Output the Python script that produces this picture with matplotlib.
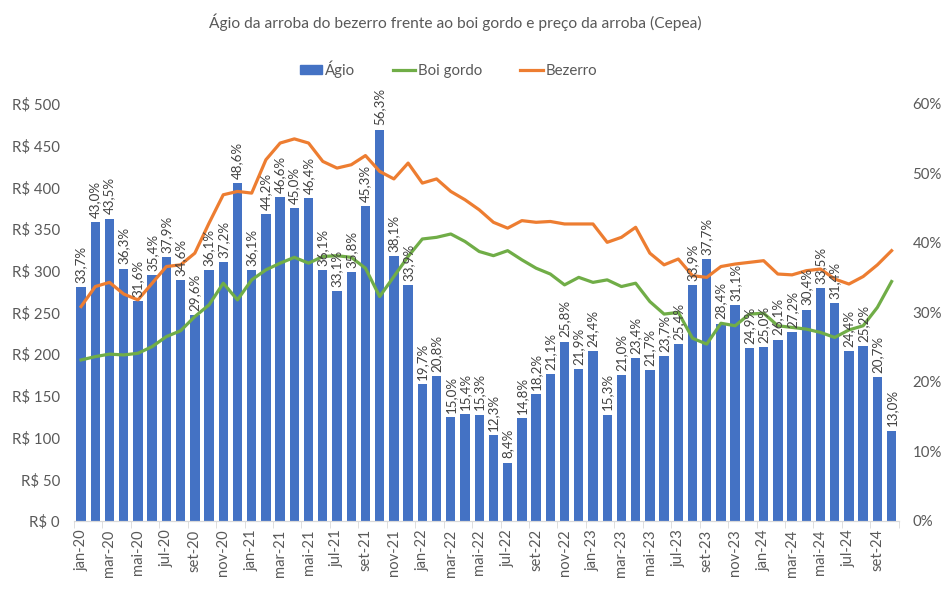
import matplotlib
matplotlib.use('Agg')
import matplotlib.pyplot as plt
from matplotlib.ticker import FuncFormatter, MultipleLocator, FixedLocator
from matplotlib.lines import Line2D
from matplotlib.patches import Patch

matplotlib.rc('font', family=['Lato', 'DejaVu Sans'], size=10)

meses = ['jan', 'fev', 'mar', 'abr', 'mai', 'jun',
         'jul', 'ago', 'set', 'out', 'nov', 'dez']
anos = ['20', '21', '22', '23', '24']
rotulos = [m + '-' + a for a in anos for m in meses][:58]

# agio da arroba do bezerro sobre o boi gordo (%)
agio = [33.7, 43.0, 43.5, 36.3, 31.6, 35.4, 37.9, 34.6, 29.6, 36.1, 37.2, 48.6,
        36.1, 44.2, 46.6, 45.0, 46.4, 36.1, 33.1, 35.8, 45.3, 56.3, 38.1, 33.9,
        19.7, 20.8, 15.0, 15.4, 15.3, 12.3, 8.4, 14.8, 18.2, 21.1, 25.8, 21.9,
        24.4, 15.3, 21.0, 23.4, 21.7, 23.7, 25.4, 33.9, 37.7, 28.4, 31.1, 24.9,
        25.0, 26.1, 27.2, 30.4, 33.5, 31.4, 24.4, 25.2, 20.7, 13.0]

# preco da arroba (R$)
boi_gordo = [193, 197, 200, 199, 201, 209, 221, 228, 245, 259, 285, 265,
             289, 301, 309, 316, 309, 317, 318, 316, 303, 269, 293, 317,
             338, 340, 344, 335, 323, 318, 324, 313, 303, 296, 283, 292,
             286, 289, 281, 285, 263, 248, 250, 219, 212, 237, 234, 248,
             249, 234, 232, 230, 226, 220, 229, 234, 256, 287]

bezerro = [257, 281, 286, 272, 265, 285, 305, 307, 321, 357, 391, 395,
           393, 433, 453, 458, 453, 431, 423, 427, 438, 419, 410, 429,
           405, 410, 395, 385, 373, 358, 351, 360, 358, 359, 356, 356,
           356, 334, 340, 352, 321, 307, 314, 294, 292, 305, 308, 310,
           312, 296, 295, 300, 302, 290, 284, 293, 307, 324]

AZUL = '#4472C4'
VERDE = '#70AD47'
LARANJA = '#ED7D31'
CINZA = '#595959'

x = list(range(len(agio)))

fig = plt.figure(figsize=(9.48, 5.90), dpi=100)
ax = fig.add_axes([0.078, 0.117, 0.870, 0.707])
ax2 = ax.twinx()

ax2.bar(x, agio, width=0.66, color=AZUL, zorder=2)
ax.plot(x, boi_gordo, color=VERDE, lw=2.3, solid_joinstyle='round')
ax.plot(x, bezerro, color=LARANJA, lw=2.3, solid_joinstyle='round')

ax.set_zorder(ax2.get_zorder() + 1)
ax.patch.set_visible(False)

# data labels on top of everything
for xi, v in zip(x, agio):
    ax.annotate(f'{v:.1f}%'.replace('.', ','), xy=(xi, v),
                xycoords=ax2.transData, xytext=(0, 3),
                textcoords='offset points', rotation=90,
                ha='center', va='bottom', fontsize=9.6, color='#404040',
                zorder=10)

ax.set_xlim(-0.5, len(agio) - 0.5)
ax.set_ylim(0, 500)
ax2.set_ylim(0, 60)

ax.yaxis.set_major_locator(MultipleLocator(50))
ax.yaxis.set_major_formatter(FuncFormatter(lambda v, p: f'R$ {v:.0f}'))
ax2.yaxis.set_major_locator(MultipleLocator(10))
ax2.yaxis.set_major_formatter(FuncFormatter(lambda v, p: f'{v:.0f}%'))

ax.xaxis.set_major_locator(FixedLocator(x[::2]))
ax.set_xticklabels(rotulos[::2], rotation=90)
ax.xaxis.set_minor_locator(FixedLocator([i - 0.5 for i in x[::2]] + [len(x) - 0.5]))
ax.tick_params(axis='x', which='major', length=0, pad=6, colors=CINZA,
               labelsize=10.6)
ax.tick_params(axis='x', which='minor', length=5, color='#D9D9D9')
ax.tick_params(axis='y', length=0, pad=10, colors=CINZA, labelsize=10.8)
ax2.tick_params(axis='y', length=0, pad=10, colors=CINZA, labelsize=10.8)
ax2.tick_params(axis='x', length=0)

for a in (ax, ax2):
    for s in ('top', 'left', 'right'):
        a.spines[s].set_visible(False)
    a.spines['bottom'].set_color('#D9D9D9')

fig.text(0.48, 0.962, 'Ágio da arroba do bezerro frente ao boi gordo e preço da arroba (Cepea)',
         ha='center', va='center', fontsize=11.2, color=CINZA)

handles = [Patch(color=AZUL, label='Ágio'),
           Line2D([], [], color=VERDE, lw=2.3, label='Boi gordo'),
           Line2D([], [], color=LARANJA, lw=2.3, label='Bezerro')]
fig.legend(handles=handles, loc='center', bbox_to_anchor=(0.473, 0.883),
           ncol=3, frameon=False, fontsize=10.8, labelcolor=CINZA,
           columnspacing=2.5, handlelength=1.5, handletextpad=0.2,
           handleheight=0.6)

fig.savefig('out.png', dpi=100)
